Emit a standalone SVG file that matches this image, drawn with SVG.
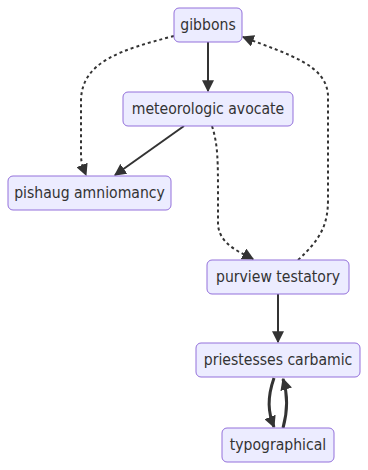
<svg xmlns="http://www.w3.org/2000/svg" width="368" height="470" viewBox="0 0 368 470">
  <style>
    .node rect { fill: #ECECFF; stroke: #9370DB; stroke-width: 1; }
    .node text { font-family: "DejaVu Sans Condensed", "DejaVu Sans", sans-serif; font-stretch: condensed; font-size: 15.6px; fill: #333; text-anchor: middle; dominant-baseline: central; }
    .edge { fill: none; stroke: #333; stroke-width: 2; }
    .thick { stroke-width: 3; }
    .dotted { stroke-dasharray: 3 3; }
  </style>
  <defs>
    <marker id="arrow" viewBox="0 0 10 10" refX="9" refY="5" markerUnits="userSpaceOnUse" markerWidth="12" markerHeight="12" orient="auto">
      <path d="M0,0 L10,5 L0,10 z" fill="#333"/>
    </marker>
  </defs>
  <rect width="368" height="470" fill="#ffffff"/>
  <g id="connectors">
    <path class="edge" d="M208,42 L208,91" marker-end="url(#arrow)"/>
    <path class="edge" d="M184,126 L115,175" marker-end="url(#arrow)"/>
    <path class="edge dotted" d="M174,36 C120,50 82,62 81,100 L81,155 C81,164 84,170 86,175" marker-end="url(#arrow)"/>
    <path class="edge dotted" d="M212,126 C218,145 218,160 218,200 L218,225 C220,245 240,252 253,259" marker-end="url(#arrow)"/>
    <path class="edge dotted" d="M298,260 C320,240 328,225 328,200 L328,95 C326,65 290,55 243,37" marker-end="url(#arrow)"/>
    <path class="edge" d="M278,294 L278,342" marker-end="url(#arrow)"/>
    <path class="edge thick" d="M274,378 C267,398 268,412 274,427" marker-end="url(#arrow)"/>
    <path class="edge thick" d="M283,428 C288,410 288,395 283,379" marker-end="url(#arrow)"/>
  </g>
  <g id="gibbons" class="node">
    <rect x="174" y="8" width="68" height="34" rx="5"/>
    <text x="208" y="25">gibbons</text>
  </g>
  <g id="meteorologic-avocate" class="node">
    <rect x="123" y="92" width="170" height="34" rx="5"/>
    <text x="208" y="109">meteorologic avocate</text>
  </g>
  <g id="pishaug-amniomancy" class="node">
    <rect x="8" y="176" width="163" height="34" rx="5"/>
    <text x="89.5" y="193">pishaug amniomancy</text>
  </g>
  <g id="purview-testatory" class="node">
    <rect x="207" y="260" width="142" height="34" rx="5"/>
    <text x="278" y="277">purview testatory</text>
  </g>
  <g id="priestesses-carbamic" class="node">
    <rect x="196" y="343" width="164" height="34" rx="5"/>
    <text x="278" y="360">priestesses carbamic</text>
  </g>
  <g id="typographical" class="node">
    <rect x="222" y="428" width="112" height="34" rx="5"/>
    <text x="278" y="445">typographical</text>
  </g>
</svg>
